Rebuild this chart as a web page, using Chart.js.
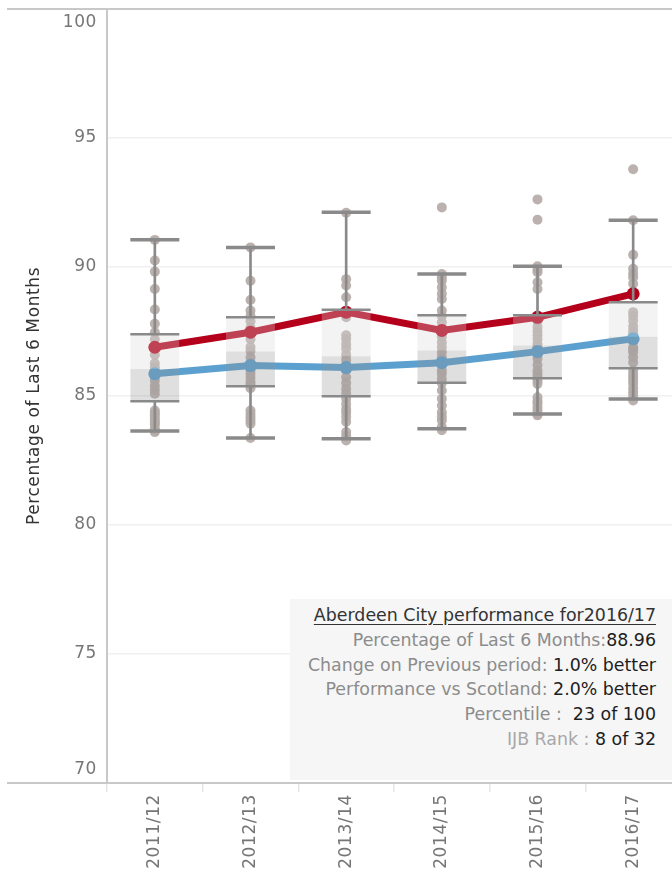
<!DOCTYPE html>
<html>
<head>
<meta charset="utf-8">
<title>Percentage of Last 6 Months</title>
<script src="https://cdn.jsdelivr.net/npm/chart.js@4"></script>
<style>
  html, body { margin: 0; padding: 0; background: #fff; overflow: hidden; }
  #wrap { position: relative; width: 709px; height: 872px; overflow: hidden; }
  /* canvas sits a little higher so the plot frame starts at y=8 */
  #chart { position: absolute; left: 0; top: -19px; }
  #info {
    position: absolute; left: 290px; top: 599px; width: 366px; height: 165px;
    padding: 4px 17px 12px 0; background: #f6f6f6;
    font-family: "DejaVu Sans", sans-serif; font-size: 17.4px; line-height: 24.8px; text-align: right;
    color: #222;
  }
  #info .t { color: #333; text-decoration: underline; text-underline-offset: 3px; }
  #info .l { color: #8c8c8c; }
  #info .l2 { color: #a8a8a8; }
  #info .v { color: #1e1e1e; }
</style>
</head>
<body>
<div id="wrap">
  <canvas id="chart" width="709" height="891"></canvas>
  <div id="info">
    <div class="t" id="infoTitle"></div>
    <div><span class="l">Percentage of Last 6 Months:</span><span class="v" id="infoValue"></span></div>
    <div><span class="l">Change on Previous period:</span> <span class="v">1.0% better</span></div>
    <div><span class="l">Performance vs Scotland:</span> <span class="v">2.0% better</span></div>
    <div><span class="l">Percentile :</span>&nbsp; <span class="v">23 of 100</span></div>
    <div><span class="l2">IJB Rank :</span> <span class="v">8 of 32</span></div>
  </div>
</div>
<script>
// years and series
const years = ['2011/12', '2012/13', '2013/14', '2014/15', '2015/16', '2016/17'];
const aberdeen = [86.89, 87.47, 88.25, 87.54, 88.05, 88.96];
const scotland = [85.86, 86.18, 86.10, 86.29, 86.72, 87.22];

// box plot of all IJBs
const whiskerLow = [83.64, 83.37, 83.34, 83.73, 84.30, 84.88];
const quartile1 = [84.80, 85.38, 84.99, 85.51, 85.69, 86.08];
const medians = [86.05, 86.72, 86.54, 86.76, 86.96, 87.30];
const quartile3 = [87.39, 88.05, 88.34, 88.13, 88.13, 88.63];
const whiskerHigh = [91.06, 90.76, 92.12, 89.73, 90.03, 91.81];

// individual IJB values per year
const ijb201112 = [91.05, 90.25, 89.82, 89.15, 88.35, 87.8, 87.47, 87.2, 86.89, 86.6, 86.27, 86.1, 85.92, 85.8, 85.6, 85.4, 85.24, 85.09, 84.44, 84.35, 84.25, 84.15, 84.05, 83.95, 83.9, 83.75, 83.65, 83.6];
const ijb201213 = [90.76, 89.47, 88.72, 88.31, 88.1, 87.9, 87.65, 87.47, 87.2, 86.9, 86.75, 86.5, 86.3, 86.2, 86.0, 85.85, 85.7, 85.54, 85.45, 85.3, 84.44, 84.3, 84.18, 84.05, 83.93, 83.37];
const ijb201314 = [92.1, 89.53, 89.28, 88.83, 88.3, 88.05, 87.35, 87.2, 87.0, 86.83, 86.6, 86.4, 86.2, 86.0, 85.73, 85.5, 85.28, 85.1, 84.9, 84.7, 84.5, 84.37, 84.2, 84.0, 83.6, 83.45, 83.28];
const ijb201415 = [92.31, 89.73, 89.6, 89.47, 89.21, 88.96, 88.76, 88.31, 88.1, 87.86, 87.6, 87.3, 87.08, 86.89, 86.7, 86.5, 86.24, 86.0, 85.86, 85.67, 85.5, 85.21, 84.89, 84.63, 84.37, 84.2, 84.05, 83.8, 83.67];
const ijb201516 = [92.62, 91.83, 90.03, 89.9, 89.8, 89.41, 89.15, 88.12, 87.9, 87.67, 87.5, 87.35, 87.2, 87.02, 86.9, 86.76, 86.6, 86.44, 86.2, 85.99, 85.85, 85.73, 85.6, 85.47, 84.95, 84.8, 84.7, 84.55, 84.44, 84.3, 84.25];
const ijb201617 = [93.79, 91.81, 90.47, 89.93, 89.75, 89.6, 89.35, 88.96, 88.25, 88.1, 87.92, 87.7, 87.54, 87.4, 87.28, 87.1, 86.89, 86.8, 86.7, 86.5, 86.3, 85.99, 85.85, 85.73, 85.6, 85.47, 85.3, 85.15, 85.0, 84.83];

const yMin = 70, yMax = 100, yStep = 5;

const FONT = '"DejaVu Sans", sans-serif';
const AXIS_GREY = '#c8c8c8';
const WHISKER = '#8a8a8a';

document.getElementById('infoTitle').textContent = 'Aberdeen City performance for' + years[years.length - 1];
document.getElementById('infoValue').textContent = aberdeen[aberdeen.length - 1].toFixed(2);

const ijbByYear = [ijb201112, ijb201213, ijb201314, ijb201415, ijb201516, ijb201617];
const dots = [];
ijbByYear.forEach((vals, i) => vals.forEach(v => dots.push({ x: years[i], y: v })));

// slightly wider text, closer to the original's font
const textSpacing = {
  id: 'textSpacing',
  beforeInit(chart) { chart.ctx.letterSpacing = '0.6px'; },
  beforeDraw(chart) { chart.ctx.letterSpacing = '0.6px'; }
};

// top and bottom frame lines, running out under the y labels like the original
const frameLines = {
  id: 'frameLines',
  beforeDatasetsDraw(chart) {
    const { ctx } = chart;
    const y = chart.scales.y;
    ctx.save();
    ctx.strokeStyle = AXIS_GREY;
    ctx.lineWidth = 2;
    [yMax, yMin].forEach(v => {
      const py = Math.round(y.getPixelForValue(v));
      ctx.beginPath();
      ctx.moveTo(7, py);
      ctx.lineTo(chart.width, py);
      ctx.stroke();
    });
    ctx.restore();
  }
};

const boxBar = {
  type: 'bar', grouped: false, barPercentage: 0.51, categoryPercentage: 1,
  borderWidth: 0, order: 2
};
const whiskerBar = {
  type: 'bar', grouped: false, barThickness: 2, borderWidth: 0,
  backgroundColor: WHISKER, order: 1
};
const capPoints = {
  type: 'line', showLine: false, pointStyle: 'line', pointRadius: 24.5,
  pointBorderColor: WHISKER, borderColor: WHISKER, order: 0
};

new Chart(document.getElementById('chart'), {
  data: {
    labels: years,
    datasets: [
      Object.assign({}, boxBar, { label: 'lower box', data: years.map((_, i) => [quartile1[i], medians[i]]), backgroundColor: 'rgba(150,150,150,0.3)' }),
      Object.assign({}, boxBar, { label: 'upper box', data: years.map((_, i) => [medians[i], quartile3[i]]), backgroundColor: 'rgba(215,215,215,0.3)' }),
      Object.assign({}, whiskerBar, { label: 'upper whisker', data: years.map((_, i) => [quartile3[i], whiskerHigh[i]]) }),
      Object.assign({}, whiskerBar, { label: 'lower whisker', data: years.map((_, i) => [whiskerLow[i], quartile1[i]]) }),
      Object.assign({}, capPoints, { label: 'max', data: whiskerHigh, pointBorderWidth: 3.5 }),
      Object.assign({}, capPoints, { label: 'min', data: whiskerLow, pointBorderWidth: 3.5 }),
      Object.assign({}, capPoints, { label: 'q3', data: quartile3, pointBorderWidth: 2.5 }),
      Object.assign({}, capPoints, { label: 'q1', data: quartile1, pointBorderWidth: 2.5 }),
      {
        type: 'line', label: 'Aberdeen City', data: aberdeen,
        borderColor: '#b5001c', backgroundColor: '#b5001c', borderWidth: 7,
        pointRadius: 6.5, pointBorderWidth: 0, order: 3
      },
      {
        type: 'line', label: 'Scotland', data: scotland,
        borderColor: '#5ba0cf', backgroundColor: '#5ba0cf', borderWidth: 7,
        pointRadius: 6.5, pointBorderWidth: 0, order: 3
      },
      {
        type: 'line', label: 'IJBs', data: dots, showLine: false,
        pointRadius: 5, pointBorderWidth: 0,
        pointBackgroundColor: 'rgba(180,170,166,0.9)', order: 4
      }
    ]
  },
  options: {
    responsive: false,
    animation: false,
    events: [],
    layout: { padding: { top: 8, left: 0, right: 0, bottom: 0 } },
    plugins: {
      legend: { display: false },
      tooltip: { enabled: false }
    },
    scales: {
      x: {
        type: 'category',
        offset: true,
        grid: { offset: true, drawOnChartArea: false, drawTicks: true, tickLength: 9, color: '#e6e6e6', lineWidth: 1.5 },
        border: { display: true, color: AXIS_GREY, width: 2 },
        ticks: {
          minRotation: 90, maxRotation: 90, padding: 2,
          color: '#767676', font: { family: FONT, size: 17 }
        },
        afterFit(scale) {
          scale.height = 89;
          scale.paddingLeft = 0;
          scale.paddingRight = 0;
        }
      },
      y: {
        type: 'linear',
        min: yMin, max: yMax,
        grid: {
          drawTicks: false,
          lineWidth: 1.5,
          color: ctx => (ctx.tick && (ctx.tick.value === yMax || ctx.tick.value === yMin)) ? 'rgba(0,0,0,0)' : '#f0f0f0'
        },
        border: { display: true, color: AXIS_GREY, width: 2 },
        ticks: {
          stepSize: yStep,
          padding: 10,
          color: '#767676',
          font: { family: FONT, size: 17, lineHeight: 1.6 },
          // end labels sit inside the frame, as in the original
          callback: v => v === yMax ? ['', String(v)] : v === yMin ? [String(v), ''] : String(v)
        },
        title: {
          display: true,
          text: 'Percentage of Last 6 Months',
          color: '#333',
          font: { family: FONT, size: 17 },
          padding: { top: 24, bottom: 0 }
        },
        afterFit(scale) {
          scale.width = 107;
          scale.paddingTop = 0;
          scale.paddingBottom = 0;
        }
      }
    }
  },
  plugins: [textSpacing, frameLines]
});
</script>
</body>
</html>
